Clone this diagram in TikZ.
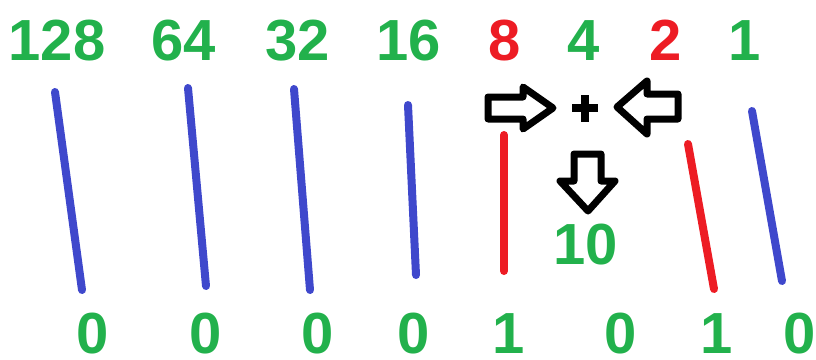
\documentclass[tikz,border=0pt]{standalone}
\usepackage{fontspec}
\setmainfont{Liberation Sans}
\definecolor{pgreen}{HTML}{22B14C}
\definecolor{pred}{HTML}{ED1C24}
\definecolor{pblue}{HTML}{3F48CC}
\begin{document}
\begin{tikzpicture}[x=1pt,y=-1pt,
  num/.style={inner sep=0pt,anchor=base,font=\fontsize{58}{58}\selectfont\bfseries,text=pgreen},
  rednum/.style={num,text=pred},
  bline/.style={line width=8pt,line cap=round,pblue},
  rline/.style={line width=8pt,line cap=round,pred},
  arr/.style={line width=7pt,line join=round,black,fill=white}]
\useasboundingbox (0,0) rectangle (816,359);
% top row
\node[num] (t128) at (57,60) {128};
\node[num] (t64) at (184,60) {64};
\node[num] (t32) at (297.5,60) {32};
\node[num] (t16) at (409,60) {16};
\node[rednum] (t8) at (505,60) {8};
\node[num] (t4) at (584,60) {4};
\node[rednum] (t2) at (666,60) {2};
\node[num] (t1) at (745,60) {1};
% bottom row
\node[num] (b1) at (92.5,353) {0};
\node[num] (b2) at (206,353) {0};
\node[num] (b3) at (318,353) {0};
\node[num] (b4) at (414,353) {0};
\node[num] (b5) at (509,353) {1};
\node[num] (b6) at (621,353) {0};
\node[num] (b7) at (717,353) {1};
\node[num] (b8) at (800,353) {0};
% result
\node[num] (res) at (586,264) {10};
% lines
\draw[bline] (55,92) -- (82,290);
\draw[bline] (188,88) -- (206,286);
\draw[bline] (294,89) -- (310,290);
\draw[bline] (408,105) -- (416,275);
\draw[rline] (504,135) -- (504,271);
\draw[rline] (688,144) -- (714,289);
\draw[bline] (752,111) -- (782,281);
% arrows
\draw[arr] (488,97) -- (523,97) -- (523,87) -- (553,108) -- (523,129) -- (523,119) -- (488,119) -- cycle;
\draw[arr] (678,94) -- (647,94) -- (647,81) -- (617,107) -- (647,134) -- (647,119) -- (678,119) -- cycle;
\draw[arr] (574,154) -- (601,154) -- (601,181) -- (615,181) -- (588,211) -- (560,181) -- (574,181) -- cycle;
% plus
\draw[line width=8pt,black] (572,108) -- (598,108) (585,95) -- (585,122);
\end{tikzpicture}
\end{document}
